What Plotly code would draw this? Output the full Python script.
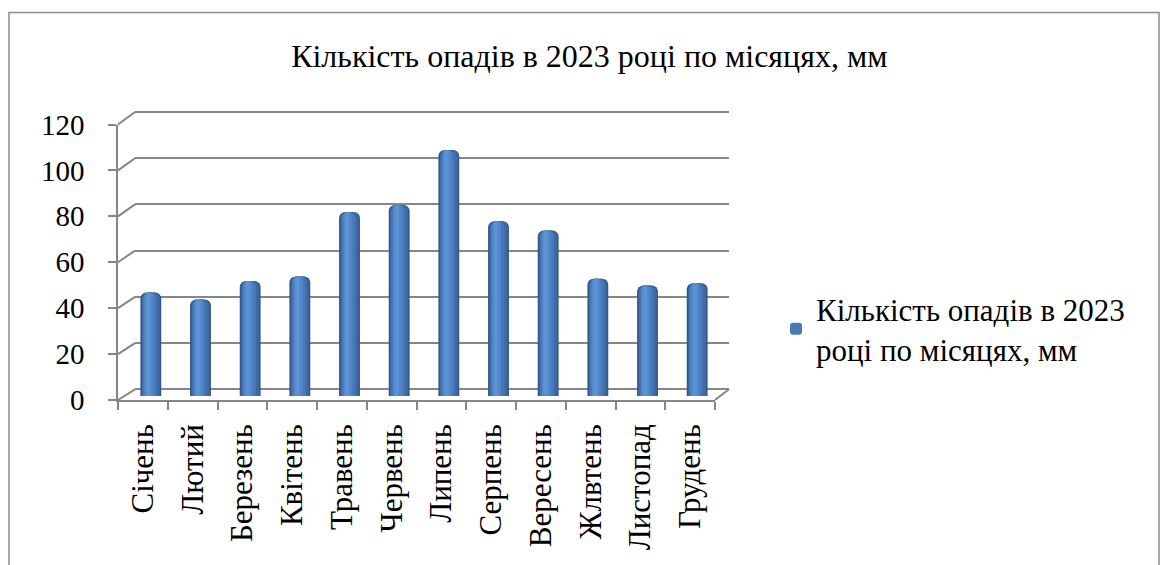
import plotly.graph_objects as go

months = ["Січень", "Лютий", "Березень", "Квітень", "Травень", "Червень",
          "Липень", "Серпень", "Вересень", "Жлвтень", "Листопад", "Грудень"]
values = [45, 42, 50, 52, 80, 83, 107, 76, 72, 51, 48, 49]
y_ticks = [0, 20, 40, 60, 80, 100, 120]
title_text = "Кількість опадів в 2023 році по місяцях, мм"
series_name = "Кількість опадів в 2023<br>році по місяцях, мм"

W, H = 1160, 565
FONT = "Liberation Serif"
GRID = "#868686"


def px_x(p):
    return p / W


def px_y(p):
    return (H - p) / H


# front axis frame (labels), back wall (gridlines), middle depth (bars)
front_x = [px_x(118), px_x(715)]
front_y = [px_y(400), px_y(124.5)]
back_x = [px_x(135), px_x(729)]
# back wall: 0 at 389.3 px, 120 at 112 px; pad range so edge gridlines show
bk0, bk1 = 389.3, 112.0
ppu = (bk0 - bk1) / 120.0
back_range = [-2, 122]
back_y = [px_y(bk0 + 2 * ppu), px_y(bk1 - 2 * ppu)]
mid_x = [px_x(126), px_x(722)]
mid_y = [px_y(396), px_y(120)]

fig = go.Figure()

bar_w = 0.42
layers = [
    (bar_w, 0.0, "#33578A"),
    (0.36, 0.0, "#3E6AA3"),
    (0.28, -0.02, "#4878B8"),
    (0.18, -0.035, "#5386C8"),
    (0.09, -0.05, "#5C92D3"),
]
for i, (w, shift, col) in enumerate(layers):
    fig.add_trace(go.Bar(
        x=months, y=values, xaxis="x3", yaxis="y3",
        width=w, offset=-w / 2 + shift,
        marker=dict(color=col, line=dict(width=0), cornerradius=6),
        name=series_name, showlegend=(i == 2),
        hoverinfo="skip",
    ))

# invisible traces so the front frame axes and back wall axes are drawn
fig.add_trace(go.Scatter(x=months, y=[0] * len(months), xaxis="x", yaxis="y",
                         mode="markers", marker=dict(opacity=0),
                         showlegend=False, hoverinfo="skip"))
fig.add_trace(go.Scatter(x=[0.5], y=[0], xaxis="x2", yaxis="y2", mode="markers",
                         marker=dict(opacity=0), showlegend=False, hoverinfo="skip"))

fig.update_layout(
    width=W, height=H,
    margin=dict(l=0, r=0, t=0, b=0, autoexpand=False),
    paper_bgcolor="white", plot_bgcolor="rgba(0,0,0,0)",
    barmode="overlay",
    font=dict(family=FONT, size=30, color="black"),
    title=dict(text=title_text, x=0.508, xanchor="center", y=1 - 56 / H,
               yanchor="middle", font=dict(family=FONT, size=32, color="black")),
    xaxis=dict(domain=front_x, anchor="y", type="category",
               categoryorder="array", categoryarray=months,
               range=[-0.5, len(months) - 0.5], automargin=False,
               showgrid=False, showline=True, linecolor=GRID, linewidth=1.5,
               ticks="outside", tickson="boundaries", ticklen=8,
               tickcolor=GRID, tickwidth=1.5,
               tickangle=-90, tickfont=dict(family=FONT, size=31), ticklabelstandoff=10),
    yaxis=dict(domain=front_y, anchor="x", range=[0, 120], tickvals=y_ticks,
               automargin=False,
               showgrid=False, zeroline=False, showline=True, linecolor=GRID,
               linewidth=1.5, ticks="outside", ticklen=8, tickcolor=GRID,
               tickwidth=1.5, tickfont=dict(family=FONT, size=29), ticklabelstandoff=18),
    xaxis2=dict(domain=back_x, anchor="y2", range=[0, 1], visible=False),
    yaxis2=dict(domain=back_y, anchor="x2", range=back_range, tickvals=y_ticks,
                showgrid=True, gridcolor=GRID, gridwidth=2, zeroline=False,
                showticklabels=False, showline=False, ticks=""),
    xaxis3=dict(domain=mid_x, anchor="y3", type="category",
                categoryorder="array", categoryarray=months,
                range=[-0.5, len(months) - 0.5], visible=False),
    yaxis3=dict(domain=mid_y, anchor="x3", range=[0, 120], visible=False),
    legend=dict(x=px_x(776), y=px_y(282), xanchor="left", yanchor="top",
                font=dict(family=FONT, size=31, color="black"),
                bgcolor="rgba(0,0,0,0)", itemsizing="constant", itemwidth=30),
    showlegend=True,
)

# 3D connectors from front axis to back wall
fy0, fy1 = front_y
by0, by1 = px_y(bk0), px_y(bk1)
shapes = []
for v in y_ticks:
    yf = fy0 + v / 120 * (fy1 - fy0)
    yb = by0 + v / 120 * (by1 - by0)
    shapes.append(dict(type="line", xref="paper", yref="paper",
                       x0=front_x[0], y0=yf, x1=back_x[0], y1=yb,
                       line=dict(color=GRID, width=2)))
shapes.append(dict(type="line", xref="paper", yref="paper",
                   x0=front_x[1], y0=fy0, x1=back_x[1], y1=by0,
                   line=dict(color=GRID, width=2)))
# chart border
shapes.append(dict(type="rect", xref="paper", yref="paper",
                   x0=px_x(9), y0=px_y(575), x1=px_x(1159), y1=px_y(12.5),
                   line=dict(color="#8C8C8C", width=1.5)))
fig.update_layout(shapes=shapes)

fig.write_html("out.html", config={"displayModeBar": False},
               post_script="document.body.style.margin='0';document.body.style.overflow='hidden';")
